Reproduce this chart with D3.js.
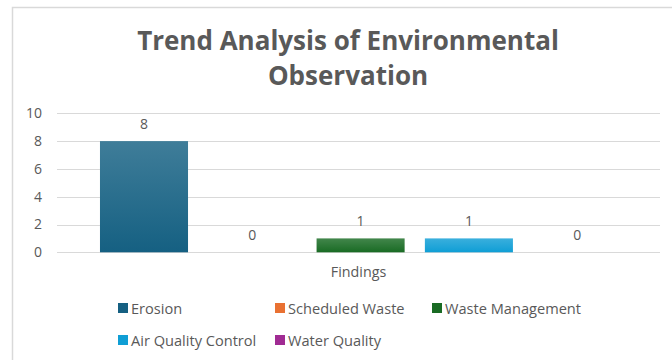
<!DOCTYPE html>
<html><head><meta charset="utf-8">
<script src="https://cdn.jsdelivr.net/npm/d3@7"></script>
<style>
html,body{margin:0;padding:0;background:#fff;}
svg{display:block;font-family:"Open Sans",sans-serif;}
</style></head>
<body>
<svg id="c" width="672" height="360"></svg>
<script>
const category = "Findings";
const series = ["Erosion","Scheduled Waste","Waste Management","Air Quality Control","Water Quality"];
const values = [8,0,1,1,0];
const colors = ["#156082","#E97132","#196B24","#0F9ED5","#A02B93"];
const yTicks = [0,2,4,6,8,10];
const titleLines = ["Trend Analysis of Environmental","Observation"];

const svg = d3.select("#c");
const textColor = "#595959";

// chart border
svg.append("rect").attr("x",12.5).attr("y",7.5).attr("width",700).attr("height",400)
  .attr("fill","#fff").attr("stroke","#d9d9d9").attr("stroke-width",1.5);

// title
svg.append("g").selectAll("text").data(titleLines).join("text")
  .attr("x",348).attr("y",(d,i)=>49.5+i*35)
  .attr("text-anchor","middle").attr("font-weight",700).attr("font-size",26)
  .attr("fill",textColor).text(d=>d);

const plotLeft = 57, plotRight = 660, plotTop = 113.3, plotBottom = 252.3;
const y = d3.scaleLinear().domain([0,10]).range([plotBottom,plotTop]);
const x = d3.scaleBand().domain(series).range([89.85,631.35]).paddingInner(0.187).paddingOuter(0.0935);

// gridlines
svg.append("g").selectAll("line").data(yTicks).join("line")
  .attr("x1",plotLeft).attr("x2",plotRight)
  .attr("y1",d=>Math.round(y(d))+0.5).attr("y2",d=>Math.round(y(d))+0.5)
  .attr("stroke","#d9d9d9").attr("stroke-width",1);

// y axis
const yAxis = d3.axisLeft(y).tickValues(yTicks).tickSize(0).tickPadding(0);
const ya = svg.append("g").attr("transform",`translate(42,0)`).call(yAxis);
ya.select(".domain").remove();
ya.selectAll("text").attr("fill",textColor).attr("font-size",14).attr("font-family","Open Sans, sans-serif");

// gradients
const defs = svg.append("defs");
colors.forEach((c,i)=>{
  const g = defs.append("linearGradient").attr("id","g"+i).attr("x1",0).attr("y1",0).attr("x2",0).attr("y2",1);
  g.append("stop").attr("offset","0%").attr("stop-color",d3.interpolateRgb(c,"#ffffff")(0.18));
  g.append("stop").attr("offset","100%").attr("stop-color",c);
});

// bars
svg.append("g").selectAll("rect").data(series).join("rect")
  .attr("x",d=>x(d)).attr("width",x.bandwidth())
  .attr("y",(d,i)=>y(values[i])).attr("height",(d,i)=>y(0)-y(values[i]))
  .attr("fill",(d,i)=>`url(#g${i})`);

// value labels
svg.append("g").selectAll("text").data(series).join("text")
  .attr("x",d=>x(d)+x.bandwidth()/2).attr("y",(d,i)=>y(values[i])-12)
  .attr("text-anchor","middle").attr("font-size",14).attr("fill",textColor)
  .text((d,i)=>values[i]);

// category label
svg.append("text").attr("x",(plotLeft+plotRight)/2).attr("y",276.5)
  .attr("text-anchor","middle").attr("font-size",14.3).attr("fill",textColor).text(category);

// legend
const legendPos = [[118,308],[275,308],[432,308],[118,340],[275,340]];
const lg = svg.append("g").selectAll("g").data(series).join("g")
  .attr("transform",(d,i)=>`translate(${legendPos[i][0]},${legendPos[i][1]})`);
lg.append("rect").attr("x",0).attr("y",-5).attr("width",10).attr("height",10).attr("fill",(d,i)=>colors[i]);
lg.append("text").attr("x",13).attr("y",5.5).attr("font-size",14.6).attr("fill",textColor).text(d=>d);
</script>
</body></html>
